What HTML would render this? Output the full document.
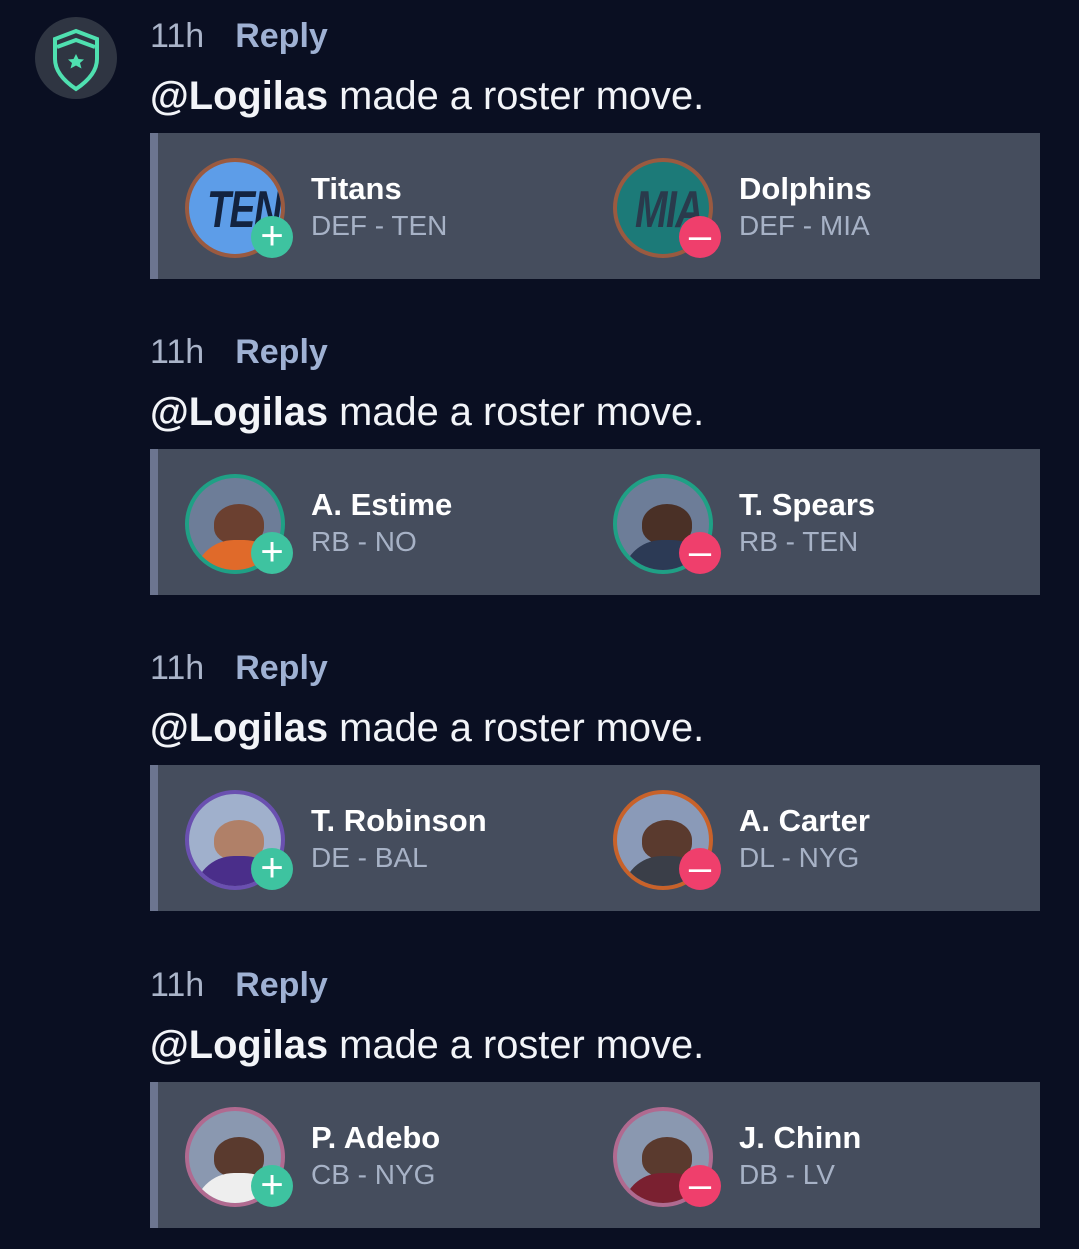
<!DOCTYPE html>
<html><head><meta charset="utf-8"><style>
*{margin:0;padding:0;box-sizing:border-box}
body{width:1079px;height:1242px;background:#0a0f22;position:relative;overflow:hidden;font-family:"Liberation Sans",Arial,sans-serif}
.blk{position:absolute;left:0;width:1079px;height:300px}
.meta{position:absolute;left:150px;top:17px;font-size:34px;color:#aab4c9;white-space:nowrap}
.meta b{color:#9fb1d3;margin-left:31px}
.msg{position:absolute;left:150px;top:74px;font-size:39.8px;color:#f2f4f8;white-space:nowrap}
.card{position:absolute;left:150px;top:133px;width:890px;height:146px;background:#454d5d;border-left:8px solid #6c7590}
.av{position:absolute;top:25px;width:100px;height:100px;border-radius:50%;border:4px solid #1fa085;background:#6d7d98;overflow:hidden}
.badge{position:absolute;width:42px;height:42px;border-radius:50%;top:83px;color:#fff;font-size:40px;line-height:40px;text-align:center}
.plus{background:#3ec3a0}
.minus{background:#ef3f6c}
.nm{position:absolute;top:38px;font-size:31px;font-weight:bold;color:#fff;white-space:nowrap}
.sb{position:absolute;top:77px;font-size:28px;color:#a7b2c6;white-space:nowrap}
.head{position:absolute;left:25px;top:26px;width:50px;height:40px;border-radius:50% 50% 40% 40%;background:#c08a6a}
.body{position:absolute;left:5px;top:62px;width:90px;height:50px;border-radius:40px 40px 0 0}
</style></head><body>
<div style="position:absolute;left:35px;top:17px;width:82px;height:82px;border-radius:50%;background:#2f3542">
<svg width="82" height="82" viewBox="0 0 82 82"><path d="M41 14 L62 22 L62 42 Q62 58 41 72 Q20 58 20 42 L20 22 Z" fill="none" stroke="#4fe0b0" stroke-width="4"/><path d="M22 30 L41 23 L60 30" fill="none" stroke="#4fe0b0" stroke-width="4"/><polygon points="41,37 43.5,42 49,42.5 45,46 46.5,51.5 41,48.5 35.5,51.5 37,46 33,42.5 38.5,42" fill="#4fe0b0"/></svg></div>

<div class="blk" style="top:0">
<div class="meta">11h<b>Reply</b></div><div class="msg"><b>@Logilas</b> made a roster move.</div>
<div class="card">
<div class="av" style="left:27px;border-color:#9a5a40;background:#5d9de8"><div style="position:absolute;left:18px;top:18px;font-size:52px;font-weight:bold;font-style:italic;color:#13233f;transform:scaleX(.75);transform-origin:left;letter-spacing:-2px">TEN</div></div>
<div class="badge plus" style="left:93px">+</div>
<div class="nm" style="left:153px">Titans</div><div class="sb" style="left:153px">DEF - TEN</div>
<div class="av" style="left:455px;border-color:#9a5a40;background:#1c7a78"><div style="position:absolute;left:18px;top:18px;font-size:52px;font-weight:bold;font-style:italic;color:#2a3a4c;transform:scaleX(.75);transform-origin:left;letter-spacing:-2px">MIA</div></div>
<div class="badge minus" style="left:521px">–</div>
<div class="nm" style="left:581px">Dolphins</div><div class="sb" style="left:581px">DEF - MIA</div>
</div></div>

<div class="blk" style="top:316px">
<div class="meta">11h<b>Reply</b></div><div class="msg"><b>@Logilas</b> made a roster move.</div>
<div class="card">
<div class="av" style="left:27px"><div class="head" style="background:#6b4030"></div><div class="body" style="background:#e06a2a"></div></div>
<div class="badge plus" style="left:93px">+</div>
<div class="nm" style="left:153px">A. Estime</div><div class="sb" style="left:153px">RB - NO</div>
<div class="av" style="left:455px"><div class="head" style="background:#4a3026"></div><div class="body" style="background:#2c3a55"></div></div>
<div class="badge minus" style="left:521px">–</div>
<div class="nm" style="left:581px">T. Spears</div><div class="sb" style="left:581px">RB - TEN</div>
</div></div>

<div class="blk" style="top:632px">
<div class="meta">11h<b>Reply</b></div><div class="msg"><b>@Logilas</b> made a roster move.</div>
<div class="card">
<div class="av" style="left:27px;border-color:#6a50b0;background:#a0b0cc"><div class="head" style="background:#b08068"></div><div class="body" style="background:#4a2e8a"></div></div>
<div class="badge plus" style="left:93px">+</div>
<div class="nm" style="left:153px">T. Robinson</div><div class="sb" style="left:153px">DE - BAL</div>
<div class="av" style="left:455px;border-color:#c8622a;background:#8a9ab8"><div class="head" style="background:#5a3a2e"></div><div class="body" style="background:#3a3e48"></div></div>
<div class="badge minus" style="left:521px">–</div>
<div class="nm" style="left:581px">A. Carter</div><div class="sb" style="left:581px">DL - NYG</div>
</div></div>

<div class="blk" style="top:949px">
<div class="meta">11h<b>Reply</b></div><div class="msg"><b>@Logilas</b> made a roster move.</div>
<div class="card">
<div class="av" style="left:27px;border-color:#b06a90;background:#8a98b0"><div class="head" style="background:#5a3a2e"></div><div class="body" style="background:#eeeeee"></div></div>
<div class="badge plus" style="left:93px">+</div>
<div class="nm" style="left:153px">P. Adebo</div><div class="sb" style="left:153px">CB - NYG</div>
<div class="av" style="left:455px;border-color:#b06a90;background:#8a98b0"><div class="head" style="background:#5a3a2e"></div><div class="body" style="background:#7a2030"></div></div>
<div class="badge minus" style="left:521px">–</div>
<div class="nm" style="left:581px">J. Chinn</div><div class="sb" style="left:581px">DB - LV</div>
</div></div>
</body></html>
